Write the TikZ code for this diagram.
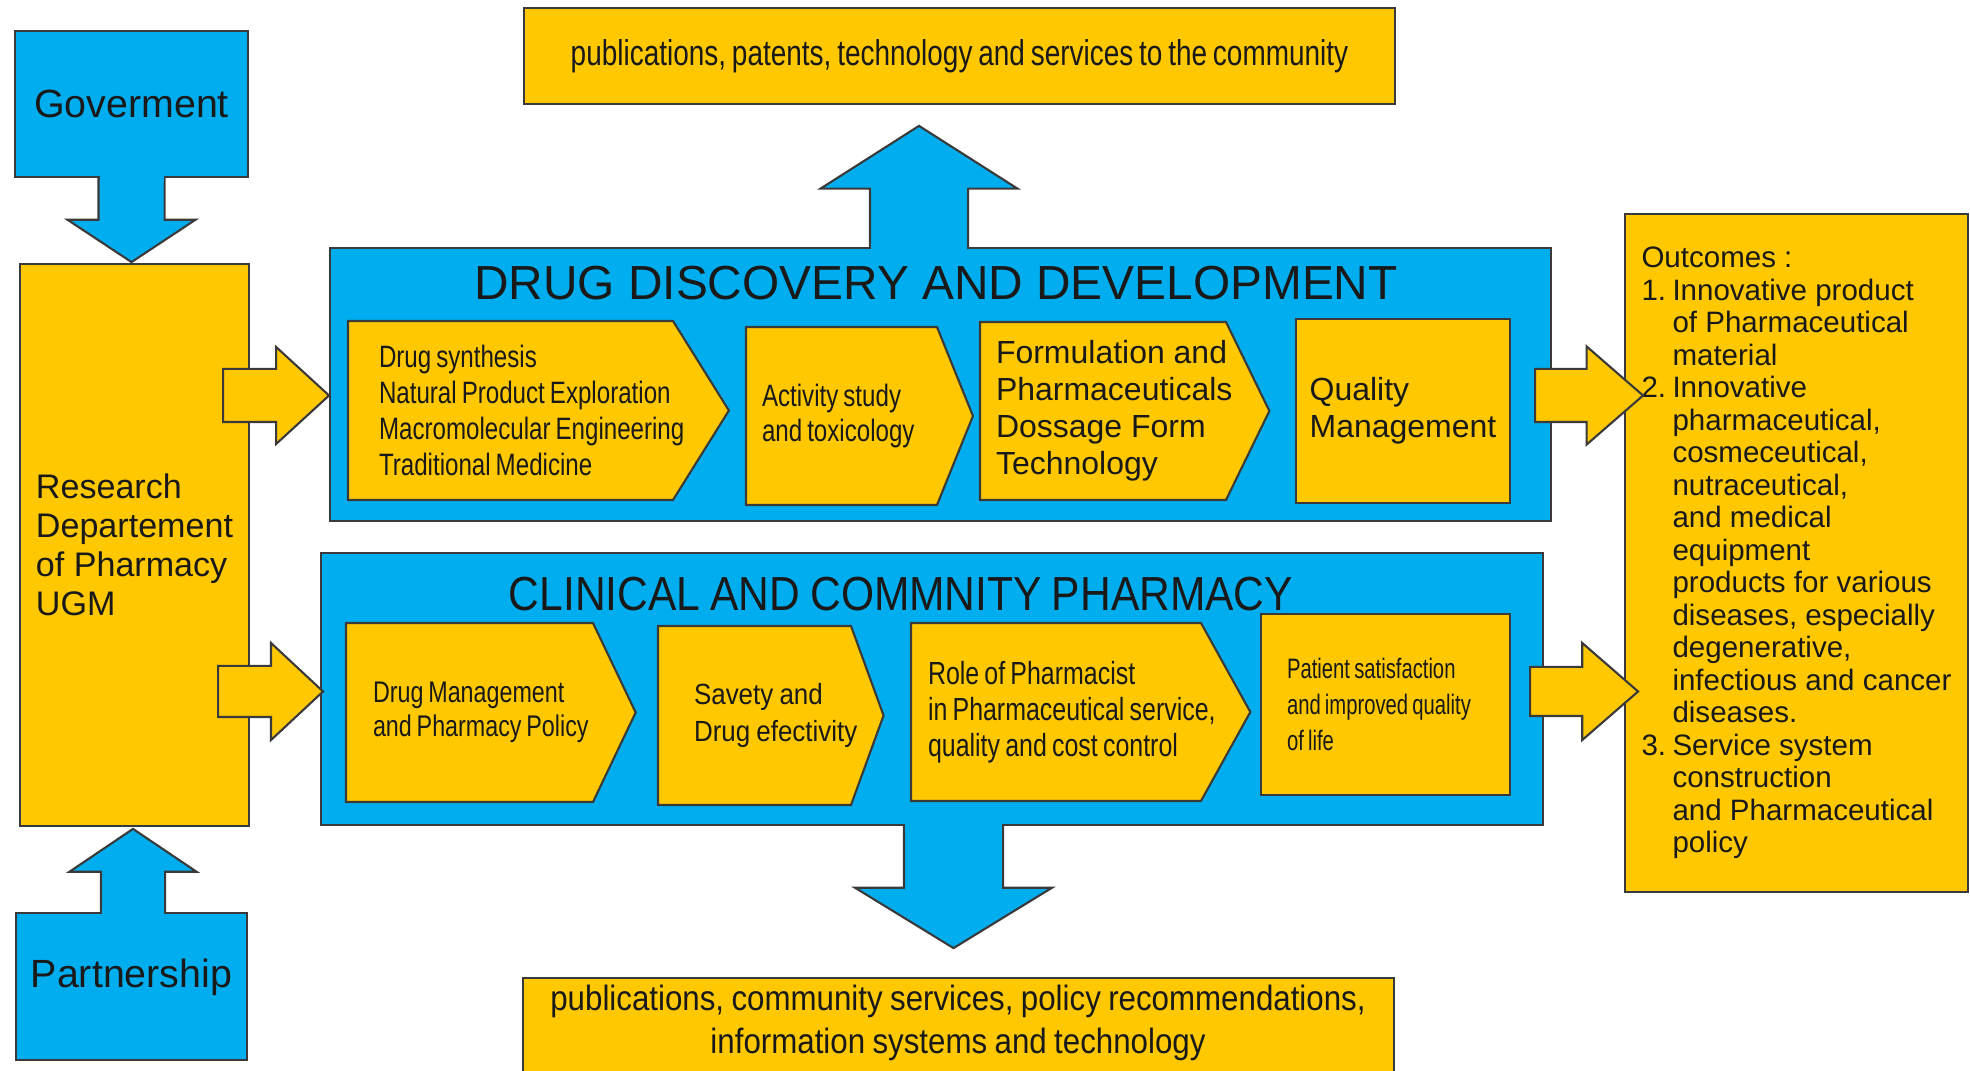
\documentclass[tikz,border=0pt]{standalone}
\usepackage{fontspec}
\setmainfont{Liberation Sans}
\newfontfamily\condfont[FakeStretch=0.78,WordSpace=0.75]{Liberation Sans}
\newfontfamily\semicondfont[FakeStretch=0.89,WordSpace=0.85]{Liberation Sans}
\newfontfamily\tightfont[FakeStretch=0.72,WordSpace=0.75]{Liberation Sans}
\usetikzlibrary{shapes.symbols,shapes.arrows,calc}
\definecolor{ugmyellow}{HTML}{FFC800}
\definecolor{ugmblue}{HTML}{00AEEF}
\definecolor{edgegray}{HTML}{3A3A3A}
\newcommand{\outnum}[1]{\makebox[3.1mm][l]{#1}}
\newcommand{\outind}{\hspace*{3.1mm}}

\begin{document}
\begin{tikzpicture}[
        x=0.1mm, y=-0.1mm,
        every node/.style={text=black!90},
        ybox/.style={draw=edgegray, line width=0.6pt, fill=ugmyellow, inner sep=0pt},
        bbox/.style={draw=edgegray, line width=0.6pt, fill=ugmblue, inner sep=0pt},
        stage/.style={ybox, shape=signal, signal to=east, signal from=nowhere, align=flush left},
        yarrow/.style={ybox, shape=single arrow, inner xsep=0pt, anchor=tail},
        barrow/.style={bbox, shape=single arrow, inner xsep=0pt, anchor=tail}
        ]
    \useasboundingbox (0,0) rectangle (1970,1071);

    % partners and department
    \node[bbox, minimum width=23.3mm, minimum height=14.6mm, font=\fontsize{11.2}{13}\selectfont] (gov) at (131.5,104) {Goverment};
    \node[ybox, minimum width=22.9mm, minimum height=56.2mm, align=flush left, font=\fontsize{9.7}{11.1}\selectfont] (res) at (134.5,545) {Research\\Departement\\of Pharmacy\\UGM};
    \node[bbox, minimum width=23.1mm, minimum height=14.7mm, text depth=7.5pt, font=\fontsize{11.2}{13}\selectfont] (partner) at (131.5,986.5) {Partnership};

    % results
    \node[ybox, minimum width=87.1mm, minimum height=9.6mm, font=\fontsize{10.2}{12}\selectfont\condfont] (topout) at (959.5,56) {publications, patents, technology and services to the community};
    \node[ybox, minimum width=87.1mm, minimum height=10mm] (botout) at (958.5,1028) {};
    \node[align=center, font=\fontsize{10}{12.2}\selectfont\semicondfont] (botlbl) at (958,1022.5) {publications, community services, policy recommendations,\\information systems and technology};
    \node[ybox, minimum width=34.3mm, minimum height=67.8mm, align=flush left, font=\fontsize{8.4}{9.25}\selectfont] (outc) at (1796.5,553) {Outcomes :\\
        \outnum{1.}Innovative product\\\outind of Pharmaceutical\\\outind material\\
        \outnum{2.}Innovative\\\outind pharmaceutical,\\\outind cosmeceutical,\\\outind nutraceutical,\\\outind and medical\\\outind equipment\\\outind products for various\\\outind diseases, especially\\\outind degenerative,\\\outind infectious and cancer\\\outind diseases.\\
        \outnum{3.}Service system\\\outind construction\\\outind and Pharmaceutical\\\outind policy};

    % drug discovery and development
    \node[bbox, minimum width=122.1mm, minimum height=27.3mm] (ddd) at (940.5,384.5) {};
    \node[font=\fontsize{13.6}{16}\selectfont] (dddtitle) at (936,283) {DRUG DISCOVERY AND DEVELOPMENT};
    \node[stage, text width=26.3mm, inner xsep=3.1mm, minimum height=17.9mm, signal pointer angle=116, font=\fontsize{8.8}{10.2}\selectfont\condfont] (dd1) at (510.5,410.5) {Drug synthesis\\\mbox{Natural Product Exploration}\\\mbox{Macromolecular Engineering}\\Traditional Medicine};
    \node[stage, text width=15.9mm, inner xsep=1.6mm, minimum height=17.8mm, signal pointer angle=136, font=\fontsize{8.8}{10.2}\selectfont\condfont] (dd2) at (841.5,416) {\mbox{Activity study}\\\mbox{and toxicology}};
    \node[stage, text width=21.4mm, inner xsep=1.6mm, minimum height=17.8mm, signal pointer angle=128, font=\fontsize{9.1}{10.5}\selectfont] (dd3) at (1103,411) {\mbox{Formulation and}\\\mbox{Pharmaceuticals}\\Dossage Form\\Technology};
    \node[ybox, minimum width=21.4mm, minimum height=18.4mm, align=flush left, font=\fontsize{9.1}{10.5}\selectfont] (dd4) at (1403,411) {Quality\\Management};

    % clinical and community pharmacy
    \node[bbox, minimum width=122.2mm, minimum height=27.2mm] (ccp) at (932,689) {};
    \node[font=\fontsize{13.6}{16}\selectfont\semicondfont] (ccptitle) at (901,594) {CLINICAL AND COMMNITY PHARMACY};
    \node[stage, text width=19.3mm, inner xsep=2.7mm, minimum height=17.9mm, signal pointer angle=129, font=\fontsize{8.5}{9.7}\selectfont\condfont] (cc1) at (469.5,712.5) {\mbox{Drug Management}\\\mbox{and Pharmacy Policy}};
    \node[stage, text width=12.1mm, inner xsep=3.6mm, minimum height=17.9mm, signal pointer angle=140, font=\fontsize{8.3}{10.5}\selectfont\semicondfont] (cc2) at (754.5,715.5) {\mbox{Savety and}\\\mbox{Drug efectivity}};
    \node[stage, text width=25.6mm, inner xsep=1.7mm, minimum height=17.8mm, signal pointer angle=122, font=\fontsize{9.1}{10.2}\selectfont\condfont] (cc3) at (1056,712) {\mbox{Role of Pharmacist}\\\mbox{in Pharmaceutical service,}\\\mbox{quality and cost control}};
    \node[ybox, text width=19.7mm, inner xsep=2.6mm, minimum height=18.1mm, align=flush left, font=\fontsize{8}{10.2}\selectfont\tightfont] (cc4) at (1385.5,704.5) {\mbox{Patient satisfaction}\\\mbox{and improved quality}\\of life};

    % block arrows
    \node[barrow, rotate=-90, minimum height=8.3mm, inner ysep=3.2mm, single arrow head extend=3.1mm, single arrow tip angle=113] (govarr) at (gov.south) {};
    \node[barrow, rotate=90, minimum height=8.2mm, inner ysep=3.1mm, single arrow head extend=3.15mm, single arrow tip angle=112] (partarr) at ([xshift=0.15mm]partner.north) {};
    \node[barrow, rotate=90, minimum height=12mm, inner ysep=4.8mm, single arrow head extend=4.95mm, single arrow tip angle=115] (uparr) at ([xshift=-2.15mm]ddd.north) {};
    \node[barrow, rotate=-90, minimum height=12.1mm, inner ysep=4.85mm, single arrow head extend=4.9mm, single arrow tip angle=117] (dnarr) at ([xshift=2.15mm]ccp.south) {};
    \foreach \a in {govarr,partarr,uparr,dnarr}
        \fill[ugmblue] ($(\a.before tail)!0.6pt!(\a.after tail)+(0,-4)$) rectangle ($(\a.after tail)!0.6pt!(\a.before tail)+(0,4)$);
    \node[yarrow, minimum height=10.6mm, inner ysep=2.55mm, single arrow head extend=2.2mm, single arrow tip angle=85] (a1) at (222,395.5) {};
    \node[yarrow, minimum height=10.5mm, inner ysep=2.45mm, single arrow head extend=2.3mm, single arrow tip angle=86] (a2) at (217,691.5) {};
    \node[yarrow, minimum height=10.8mm, inner ysep=2.55mm, single arrow head extend=2.25mm, single arrow tip angle=82] (a3) at (1534,395.5) {};
    \node[yarrow, minimum height=10.8mm, inner ysep=2.35mm, single arrow head extend=2.4mm, single arrow tip angle=82] (a4) at (1529,691.5) {};
\end{tikzpicture}
\end{document}
